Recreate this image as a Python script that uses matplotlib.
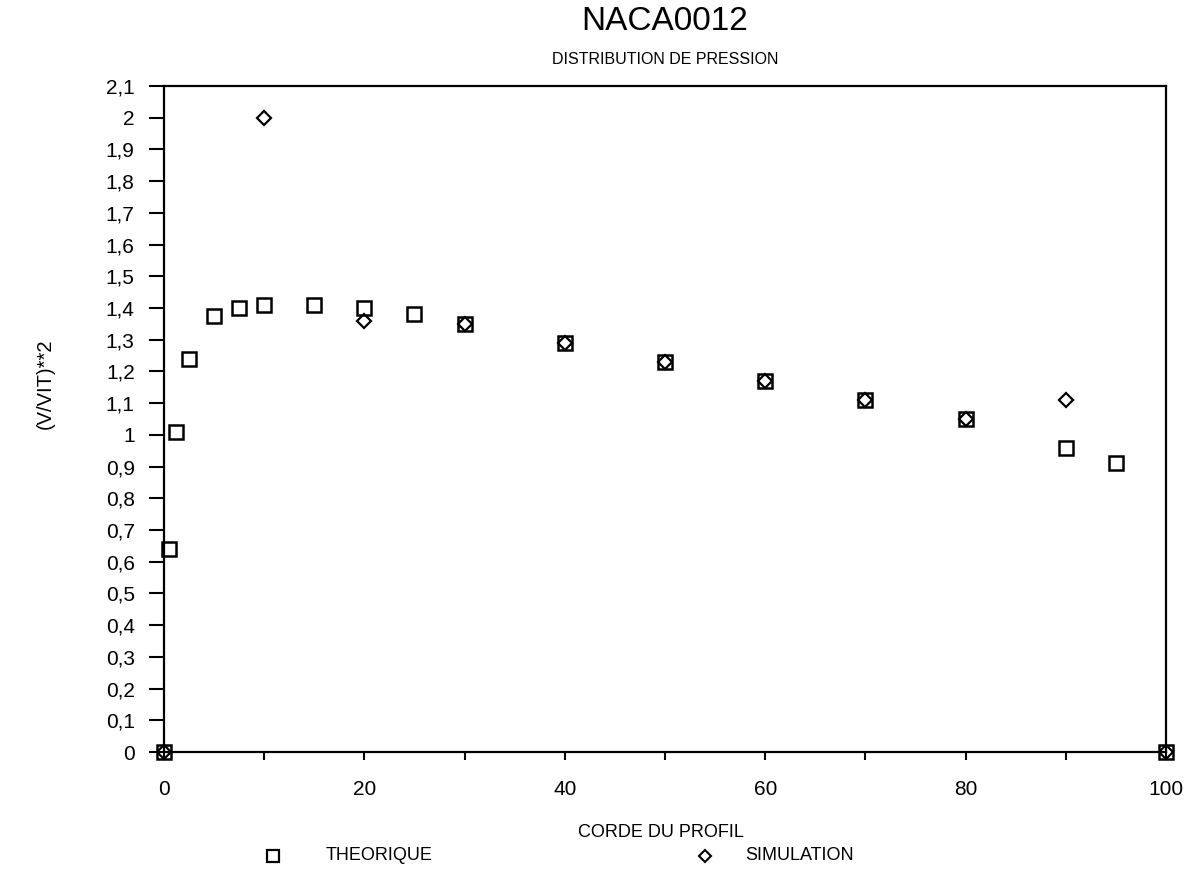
import matplotlib
matplotlib.use("Agg")
import matplotlib.pyplot as plt
from matplotlib.ticker import MultipleLocator, FuncFormatter
from matplotlib.lines import Line2D

# Data
theo_x = [0, 0.5, 1.25, 2.5, 5, 7.5, 10, 15, 20, 25, 30, 40, 50, 60, 70, 80, 90, 95, 100]
theo_y = [0, 0.64, 1.01, 1.24, 1.375, 1.40, 1.41, 1.41, 1.40, 1.38, 1.35, 1.29, 1.23, 1.17, 1.11, 1.05, 0.96, 0.91, 0]
sim_x = [0, 10, 20, 30, 40, 50, 60, 70, 80, 90, 100]
sim_y = [0, 2.0, 1.36, 1.35, 1.29, 1.23, 1.17, 1.11, 1.05, 1.11, 0]

plt.rcParams['font.family'] = ['Liberation Sans', 'DejaVu Sans']

fig = plt.figure(figsize=(11.96, 8.73), dpi=100)
ax = fig.add_axes([0.137, 0.1386, 0.838, 0.7629])

ax.plot(theo_x, theo_y, linestyle='none', marker='s', markersize=10,
        markerfacecolor='none', markeredgecolor='black', markeredgewidth=1.8, clip_on=False)
ax.plot(sim_x, sim_y, linestyle='none', marker='D', markersize=7,
        markerfacecolor='none', markeredgecolor='black', markeredgewidth=1.6, clip_on=False)

ax.set_xlim(0, 100)
ax.set_ylim(0, 2.1)
ax.xaxis.set_major_locator(MultipleLocator(20))
ax.xaxis.set_minor_locator(MultipleLocator(10))
ax.yaxis.set_major_locator(MultipleLocator(0.1))

def yfmt(v, pos):
    s = ('%.1f' % v)
    if s.endswith('.0'):
        s = s[:-2]
    return s.replace('.', ',')

ax.yaxis.set_major_formatter(FuncFormatter(yfmt))
ax.tick_params(axis='y', direction='out', length=11, width=1.5, labelsize=15, pad=10)
ax.tick_params(axis='x', which='both', direction='out', length=6, width=1.5, labelsize=15, pad=14)
for sp in ax.spines.values():
    sp.set_linewidth(1.6)

fig.text(0.556, 0.975, 'NACA0012', ha='center', va='center', fontsize=24, fontweight='light')
fig.text(0.556, 0.932, 'DISTRIBUTION DE PRESSION', ha='center', va='center', fontsize=11.5)
fig.text(0.553, 0.046, 'CORDE DU PROFIL', ha='center', va='center', fontsize=13)
fig.text(0.038, 0.56, '(V/VIT)**2', ha='center', va='center', rotation=90, fontsize=14.5)

# Legend entries
fig.lines.append(Line2D([0.2283], [0.0195], transform=fig.transFigure, marker='s', markersize=8,
                        markerfacecolor='none', markeredgecolor='black', markeredgewidth=1.6, linestyle='none'))
fig.text(0.272, 0.0195, 'THEORIQUE', ha='left', va='center', fontsize=13)
fig.lines.append(Line2D([0.5895], [0.0195], transform=fig.transFigure, marker='D', markersize=6,
                        markerfacecolor='none', markeredgecolor='black', markeredgewidth=1.5, linestyle='none'))
fig.text(0.623, 0.0195, 'SIMULATION', ha='left', va='center', fontsize=13)

fig.savefig('out.png', dpi=100)
